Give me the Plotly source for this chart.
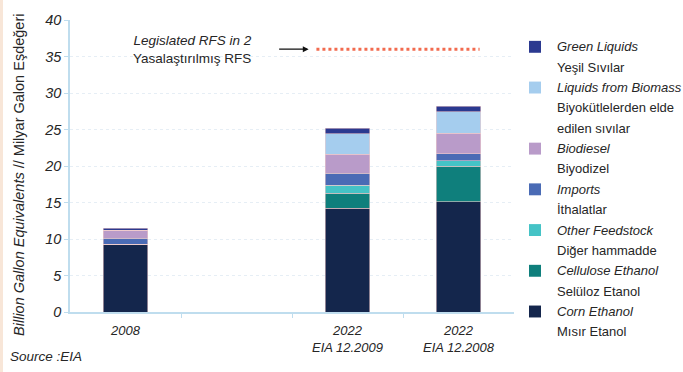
import plotly.graph_objects as go

# ---------------- data ----------------
x_pos = [0, 2, 3]
x_labels = ["2008", "2022<br>EIA 12.2009", "2022<br>EIA 12.2008"]

corn_ethanol = [9.3, 14.2, 15.1]
cellulose_ethanol = [0.0, 2.1, 4.9]
other_feedstock = [0.0, 1.05, 0.7]
imports = [0.8, 1.65, 1.0]
biodiesel = [1.1, 2.6, 2.8]
liquids_biomass = [0.0, 2.8, 2.9]
green_liquids = [0.25, 0.8, 0.8]

rfs_level = 36
rfs_x = [1.72, 3.19]

y_ticks = [0, 5, 10, 15, 20, 25, 30, 35, 40]

series = [
    ("Corn Ethanol", "Mısır Etanol", corn_ethanol, "#14264C"),
    ("Cellulose Ethanol", "Selüloz Etanol", cellulose_ethanol, "#0F7F7C"),
    ("Other Feedstock", "Diğer hammadde", other_feedstock, "#45C3C6"),
    ("Imports", "İthalatlar", imports, "#4A6BB5"),
    ("Biodiesel", "Biyodizel", biodiesel, "#B99BC9"),
    ("Liquids from Biomass", "Biyokütlelerden elde<br>edilen sıvılar", liquids_biomass, "#A5CDEE"),
    ("Green Liquids", "Yeşil Sıvılar", green_liquids, "#2B3990"),
]

FONT = "Liberation Sans, Arial, sans-serif"
TXT = "#262626"
AXC = "#BFDDEE"

W, H = 683, 372
L, R, T, B = 70, 169, 18, 60
PW, PH = W - L - R, H - T - B


def px_x(px):
    return (px - L) / PW


def px_y(py):
    return (H - B - py) / PH


fig = go.Figure()
for en, tr, vals, col in series:
    fig.add_trace(go.Bar(
        x=x_pos, y=vals, name=en, marker=dict(color=col, line=dict(color="rgba(240,205,205,0.7)", width=0.8)),
        width=0.4, showlegend=False,
    ))

fig.add_trace(go.Scatter(
    x=rfs_x, y=[rfs_level, rfs_level], mode="lines",
    line=dict(color="#F26B4F", width=3, dash="dot"), showlegend=False,
))

annotations = []
# arrow
annotations.append(dict(x=rfs_x[0] - 0.07, y=rfs_level, xref="x", yref="y", ax=-31, ay=0,
                        showarrow=True, arrowhead=2, arrowsize=0.9, arrowwidth=1.3, arrowcolor="#111", text=""))
annotations.append(dict(x=px_x(254), y=px_y(48), xref="paper", yref="paper", xanchor="right", yanchor="middle",
                        align="right", showarrow=False,
                        text="<i>Legislated RFS in 2</i><br>Yasalaştırılmış RFS",
                        font=dict(family=FONT, size=13.5, color=TXT)))
# y axis title
annotations.append(dict(x=px_x(19), y=px_y(174), xref="paper", yref="paper", xanchor="center", yanchor="middle",
                        textangle=-90, showarrow=False,
                        text="<i>Billion Gallon Equivalents</i> // Milyar Galon Eşdeğeri",
                        font=dict(family=FONT, size=14.5, color=TXT)))
# source
annotations.append(dict(x=px_x(8), y=px_y(357), xref="paper", yref="paper", xanchor="left", yanchor="middle",
                        showarrow=False, text="<i>Source :EIA</i>",
                        font=dict(family=FONT, size=13.5, color=TXT)))

# manual legend
shapes = []
line_y = 45
step = 20.5
for en, tr, vals, col in reversed(series):
    lines = ["<i>" + en + "</i>"] + tr.split("<br>")
    shapes.append(dict(type="rect", xref="paper", yref="paper",
                       x0=px_x(529), x1=px_x(541), y0=px_y(line_y + 6), y1=px_y(line_y - 6),
                       fillcolor=col, line=dict(width=0)))
    for ln in lines:
        annotations.append(dict(x=px_x(555), y=px_y(line_y), xref="paper", yref="paper",
                                xanchor="left", yanchor="middle", showarrow=False, text=ln,
                                font=dict(family=FONT, size=13, color=TXT)))
        line_y += step

# left peach border
shapes.append(dict(type="rect", xref="paper", yref="paper", x0=px_x(0), x1=px_x(3), y0=-1, y1=2,
                   fillcolor="#F8E6D8", line=dict(width=0)))

fig.update_layout(
    width=W, height=H, margin=dict(l=L, r=R, t=T, b=B),
    barmode="stack", plot_bgcolor="white", paper_bgcolor="white",
    annotations=annotations, shapes=shapes, showlegend=False,
    xaxis=dict(range=[-0.5, 3.5], tickvals=x_pos, ticktext=x_labels, ticks="",
               showgrid=False, zeroline=False, showline=True, linecolor=AXC, linewidth=1.5,
               ticklabelstandoff=6,
               tickfont=dict(family=FONT, size=13, color=TXT, style="italic"),
               minor=dict(tickvals=[0.5, 1.5, 2.5], ticks="outside", ticklen=4, tickcolor=AXC, showgrid=False)),
    yaxis=dict(range=[0, 40], tickvals=y_ticks, ticks="outside", ticklen=4, tickcolor=AXC,
               showgrid=True, gridcolor="#E6EEF5", griddash="dot", zeroline=False,
               showline=True, linecolor=AXC, linewidth=1.5,
               tickfont=dict(family=FONT, size=14.5, color=TXT, style="italic")),
)

fig.write_html("out.html")
